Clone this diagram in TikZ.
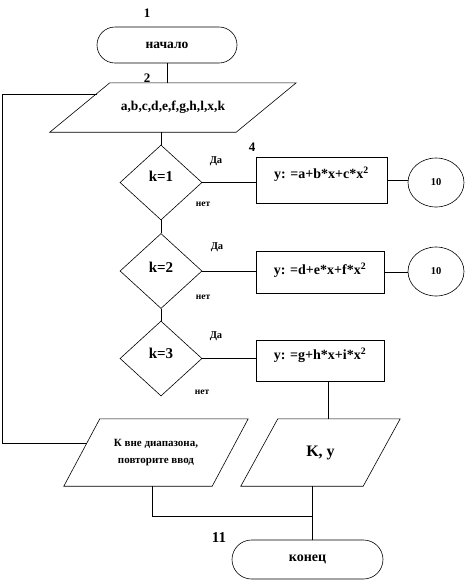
\documentclass[tikz,border=0pt]{standalone}
\usepackage{fontspec}
\setmainfont{Liberation Serif}
\usetikzlibrary{shapes.geometric,shapes.misc}
\newcommand\drawpgram[2]{%
  \draw[line width=0.6pt] ([xshift=#2/2]#1.north west) -- ([xshift=#2/2]#1.north east)
    -- ([xshift=-#2/2]#1.south east) -- ([xshift=-#2/2]#1.south west) -- cycle;}
\begin{document}
\begin{tikzpicture}[x=1pt,y=-1pt,
  line/.style={draw=black,line width=0.6pt},
  term/.style={rounded rectangle,draw,line width=0.6pt,inner sep=0pt},
  io/.style={rectangle,draw=none,inner sep=0pt},
  dec/.style={diamond,draw,line width=0.6pt,inner sep=0pt,minimum width=82pt,minimum height=75pt,font=\bfseries\fontsize{15}{17}\selectfont},
  proc/.style={rectangle,draw,line width=0.6pt,inner sep=0pt,font=\bfseries\fontsize{14}{16}\selectfont},
  conn/.style={ellipse,draw,line width=0.6pt,inner sep=0pt,minimum width=56pt,minimum height=49pt,font=\bfseries\fontsize{10.5}{12}\selectfont},
  lbl/.style={font=\bfseries\fontsize{10.5}{12}\selectfont,inner sep=0pt},
  nolbl/.style={font=\bfseries\fontsize{9.5}{11}\selectfont,inner sep=0pt},
  num/.style={font=\bfseries\fontsize{13}{15}\selectfont,inner sep=0pt}]
\useasboundingbox (0,0) rectangle (466,582);

% shapes
\node[term,minimum width=140pt,minimum height=36pt,font=\bfseries\fontsize{13.5}{15}\selectfont] (start) at (167,45) {начало};

\node[io,minimum width=186pt,minimum height=49pt,font=\bfseries\fontsize{13.5}{16}\selectfont] (in) at (173,107.5) {a,b,c,d,e,f,g,h,l,x,k};
\drawpgram{in}{60pt}

\node[dec] (d1) at (161,182.5) {\raisebox{12pt}{k=1}};
\node[dec] (d2) at (161,271) {\raisebox{8pt}{k=2}};
\node[dec] (d3) at (161,358.5) {\raisebox{10pt}{k=3}};

\node[proc,minimum width=131pt,minimum height=46pt] (b1) at (321.5,180) {\raisebox{14pt}{y: =a+b*x+c*x$^{\mathbf 2}$}};
\node[proc,minimum width=128pt,minimum height=42pt] (b2) at (320,272) {\raisebox{6pt}{y: =d+e*x+f*x$^{\mathbf 2}$}};
\node[proc,minimum width=128pt,minimum height=41pt] (b3) at (320,360.5) {\raisebox{14pt}{y: =g+h*x+i*x$^{\mathbf 2}$}};

\node[conn] (c1) at (436,182.5) {10};
\node[conn] (c2) at (436,271.5) {10};

\node[io,minimum width=148pt,minimum height=67pt,align=center,font=\bfseries\fontsize{11}{17}\selectfont] (err) at (156,452.5) {К вне диапазона,\\повторите ввод};
\drawpgram{err}{36pt}
\node[io,minimum width=122pt,minimum height=67pt,font=\bfseries\fontsize{16}{18}\selectfont] (ky) at (320.5,452.5) {K, y};
\drawpgram{ky}{37pt}

\node[term,minimum width=151pt,minimum height=39pt,font=\bfseries\fontsize{14}{16}\selectfont] (end) at (307.5,559.5) {конец};

% numbers and labels
\node[num] (n1) at (147,13) {1};
\node[num] (n2) at (147,78) {2};
\node[num] (n4) at (252,147) {4};
\node[num,font=\bfseries\fontsize{15}{17}\selectfont] (n11) at (219,538) {11};

\node[lbl] (y1) at (216,161) {Да};
\node[lbl] (y2) at (217,247) {Да};
\node[lbl] (y3) at (216,336) {Да};
\node[nolbl] (no1) at (203,204) {нет};
\node[nolbl] (no2) at (203,297) {нет};
\node[nolbl] (no3) at (202,392) {нет};

% connectors
\draw[line] (start.south) -- (start.south |- in.north);
\draw[line] (d1.north |- in.south) -- (d1.north);
\draw[line] (d1.south) -- (d2.north);
\draw[line] (d2.south) -- (d3.north);
\draw[line] (d1.east) -- (d1.east -| b1.west);
\draw[line] (b1.east) -- (b1.east -| c1.west);
\draw[line] (d2.east) -- (d2.east -| b2.west);
\draw[line] (b2.east) -- (b2.east -| c2.west);
\draw[line] (d3.east) -- (d3.east -| b3.west);
\draw[line] ([xshift=8pt]b3.south) -- ([xshift=8pt]b3.south |- ky.north);

\coordinate (lt) at (2,0);
\coordinate (inL) at (96.5,94);
\coordinate (errL) at (87,443);
\draw[line] (inL) -- (lt |- inL) -- (lt |- errL) -- (errL);

\coordinate (m) at (312,516);
\draw[line] ([xshift=-8.5pt]ky.south) -- ([xshift=-8.5pt]ky.south |- end.north);
\draw[line] ([xshift=-4pt]err.south) |- (m);
\end{tikzpicture}
\end{document}
